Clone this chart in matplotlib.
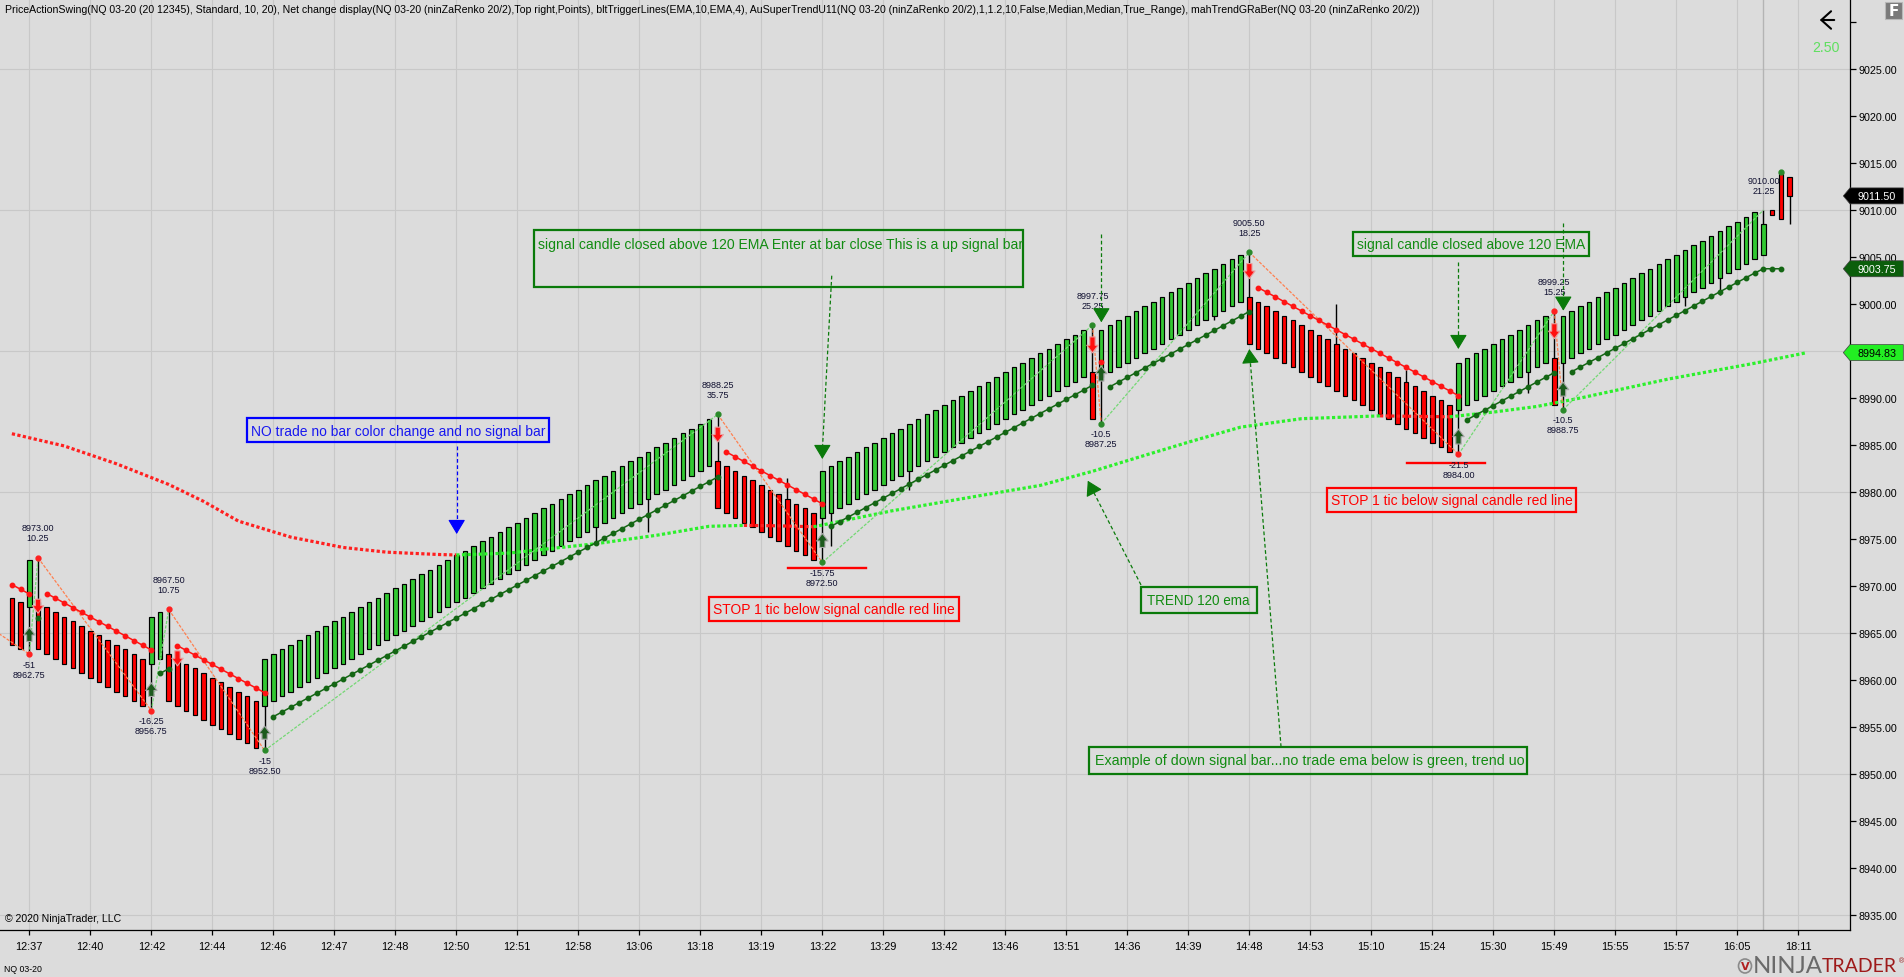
import numpy as np
import matplotlib
matplotlib.use('Agg')
import matplotlib.pyplot as plt
import matplotlib.transforms as mtransforms
from matplotlib.patches import Polygon, Rectangle, FancyArrowPatch, Ellipse
from matplotlib import font_manager as fm

# ------------------------------------------------------------------ data
time_labels = ['12:37', '12:40', '12:42', '12:44', '12:46', '12:47', '12:48', '12:50', '12:51', '12:58',
               '13:06', '13:18', '13:19', '13:22', '13:29', '13:42', '13:46', '13:51', '14:36', '14:39',
               '14:48', '14:53', '15:10', '15:24', '15:30', '15:49', '15:55', '15:57', '16:05', '18:11']

opens = [8968.75, 8968.25, 8967.75,
         8968.25, 8967.75, 8967.25, 8966.75, 8966.25, 8965.75, 8965.25, 8964.75, 8964.25, 8963.75, 8963.25, 8962.75, 8962.25,
         8961.75, 8962.25,
         8962.75, 8962.25, 8961.75, 8961.25, 8960.75, 8960.25, 8959.75, 8959.25, 8958.75, 8958.25, 8957.75,
         8957.25, 8957.75, 8958.25, 8958.75, 8959.25, 8959.75, 8960.25, 8960.75, 8961.25, 8961.75,
         8962.25, 8962.75, 8963.25, 8963.75, 8964.25, 8964.75, 8965.25, 8965.75, 8966.25, 8966.75,
         8967.25, 8967.75, 8968.25, 8968.75, 8969.25, 8969.75, 8970.25, 8970.75, 8971.25, 8971.75,
         8972.25, 8972.75, 8973.25, 8973.75, 8974.25, 8974.75, 8975.25, 8975.75, 8976.25, 8976.75,
         8977.25, 8977.75, 8978.25, 8978.75, 8979.25, 8979.75, 8980.25, 8980.75, 8981.25, 8981.75,
         8982.25, 8982.75,
         8983.25, 8982.75, 8982.25, 8981.75, 8981.25, 8980.75, 8980.25, 8979.75, 8979.25, 8978.75, 8978.25, 8977.75,
         8977.25, 8977.75, 8978.25, 8978.75, 8979.25, 8979.75, 8980.25, 8980.75, 8981.25, 8981.75,
         8982.25, 8982.75, 8983.25, 8983.75, 8984.25, 8984.75, 8985.25, 8985.75, 8986.25, 8986.75,
         8987.25, 8987.75, 8988.25, 8988.75, 8989.25, 8989.75, 8990.25, 8990.75, 8991.25, 8991.75,
         8992.25,
         8992.75,
         8992.25, 8992.75, 8993.25, 8993.75, 8994.25, 8994.75, 8995.25, 8995.75, 8996.25, 8996.75,
         8997.25, 8997.75, 8998.25, 8998.75, 8999.25, 8999.75, 9000.25,
         9000.75, 9000.25, 8999.75, 8999.25, 8998.75, 8998.25, 8997.75, 8997.25, 8996.75, 8996.25,
         8995.75, 8995.25, 8994.75, 8994.25, 8993.75, 8993.25, 8992.75, 8992.25, 8991.75, 8991.25,
         8990.75, 8990.25, 8989.75, 8989.25,
         8988.75, 8989.25, 8989.75, 8990.25, 8990.75, 8991.25, 8991.75, 8992.25, 8992.75, 8993.25, 8993.75,
         8994.25,
         8993.75, 8994.25, 8994.75, 8995.25, 8995.75, 8996.25, 8996.75, 8997.25, 8997.75, 8998.25,
         8998.75, 8999.25, 8999.75, 9000.25, 9000.75, 9001.25, 9001.75, 9002.25, 9002.75, 9003.25,
         9003.75, 9004.25, 9004.75,
         9005.25, 9010.00, 9014.00, 9013.50]

closes = [8963.75, 8963.25, 8972.75,
          8963.25, 8962.75, 8962.25, 8961.75, 8961.25, 8960.75, 8960.25, 8959.75, 8959.25, 8958.75, 8958.25, 8957.75, 8957.25,
          8966.75, 8967.25,
          8957.75, 8957.25, 8956.75, 8956.25, 8955.75, 8955.25, 8954.75, 8954.25, 8953.75, 8953.25, 8952.75,
          8962.25, 8962.75, 8963.25, 8963.75, 8964.25, 8964.75, 8965.25, 8965.75, 8966.25, 8966.75,
          8967.25, 8967.75, 8968.25, 8968.75, 8969.25, 8969.75, 8970.25, 8970.75, 8971.25, 8971.75,
          8972.25, 8972.75, 8973.25, 8973.75, 8974.25, 8974.75, 8975.25, 8975.75, 8976.25, 8976.75,
          8977.25, 8977.75, 8978.25, 8978.75, 8979.25, 8979.75, 8980.25, 8980.75, 8981.25, 8981.75,
          8982.25, 8982.75, 8983.25, 8983.75, 8984.25, 8984.75, 8985.25, 8985.75, 8986.25, 8986.75,
          8987.25, 8987.75,
          8978.25, 8977.75, 8977.25, 8976.75, 8976.25, 8975.75, 8975.25, 8974.75, 8974.25, 8973.75, 8973.25, 8972.75,
          8982.25, 8982.75, 8983.25, 8983.75, 8984.25, 8984.75, 8985.25, 8985.75, 8986.25, 8986.75,
          8987.25, 8987.75, 8988.25, 8988.75, 8989.25, 8989.75, 8990.25, 8990.75, 8991.25, 8991.75,
          8992.25, 8992.75, 8993.25, 8993.75, 8994.25, 8994.75, 8995.25, 8995.75, 8996.25, 8996.75,
          8997.25,
          8987.75,
          8997.25, 8997.75, 8998.25, 8998.75, 8999.25, 8999.75, 9000.25, 9000.75, 9001.25, 9001.75,
          9002.25, 9002.75, 9003.25, 9003.75, 9004.25, 9004.75, 9005.25,
          8995.75, 8995.25, 8994.75, 8994.25, 8993.75, 8993.25, 8992.75, 8992.25, 8991.75, 8991.25,
          8990.75, 8990.25, 8989.75, 8989.25, 8988.75, 8988.25, 8987.75, 8987.25, 8986.75, 8986.25,
          8985.75, 8985.25, 8984.75, 8984.25,
          8993.75, 8994.25, 8994.75, 8995.25, 8995.75, 8996.25, 8996.75, 8997.25, 8997.75, 8998.25, 8998.75,
          8989.25,
          8998.75, 8999.25, 8999.75, 9000.25, 9000.75, 9001.25, 9001.75, 9002.25, 9002.75, 9003.25,
          9003.75, 9004.25, 9004.75, 9005.25, 9005.75, 9006.25, 9006.75, 9007.25, 9007.75, 9008.25,
          9008.75, 9009.25, 9009.75,
          9008.50, 9009.50, 9009.00, 9011.50]

wick_high = {3: 8973.00, 18: 8967.50, 81: 8988.25, 89: 8981.50, 124: 8997.75, 142: 9005.50,
             152: 9000.00, 160: 8993.00, 177: 8999.25, 201: 9010.00}
wick_low = {2: 8962.75, 16: 8956.75, 29: 8952.50, 67: 8974.75, 73: 8975.75, 93: 8972.50, 94: 8974.25,
            103: 8980.25, 125: 8987.25, 138: 8998.25, 166: 8984.00, 174: 8990.50, 178: 8988.75,
            192: 8999.75, 196: 9001.00, 204: 9008.50}

# SuperTrend segments: (first bar, direction, values)
st_dn_1 = [8970.15, 8969.65, 8969.15]
st_up_1 = [8966.6]
st_dn_2 = [8969.2, 8968.7, 8968.2, 8967.7, 8967.2, 8966.7, 8966.2, 8965.7, 8965.2, 8964.7, 8964.2, 8963.7, 8963.2]
st_up_2 = [8960.7, 8961.2]
st_dn_3 = [8963.65, 8963.15, 8962.65, 8962.15, 8961.65, 8961.15, 8960.65, 8960.15, 8959.65, 8959.15, 8958.65]
st_up_3 = [8956.1, 8956.6, 8957.1, 8957.6, 8958.1, 8958.6, 8959.1, 8959.6, 8960.1, 8960.6,
           8961.1, 8961.6, 8962.1, 8962.6, 8963.1, 8963.6, 8964.1, 8964.6, 8965.1, 8965.6,
           8966.1, 8966.6, 8967.1, 8967.6, 8968.1, 8968.6, 8969.1, 8969.6, 8970.1, 8970.6,
           8971.1, 8971.6, 8972.1, 8972.6, 8973.1, 8973.6, 8974.1, 8974.6, 8975.1, 8975.6,
           8976.1, 8976.6, 8977.1, 8977.6, 8978.1, 8978.6, 8979.1, 8979.6, 8980.1, 8980.6,
           8981.1, 8981.6]
st_dn_4 = [8984.25, 8983.75, 8983.25, 8982.75, 8982.25, 8981.75, 8981.25, 8980.75, 8980.25, 8979.75, 8979.25, 8978.75]
st_up_4 = [8976.35, 8976.85, 8977.35, 8977.85, 8978.35, 8978.85, 8979.35, 8979.85, 8980.35, 8980.85,
           8981.35, 8981.85, 8982.35, 8982.85, 8983.35, 8983.85, 8984.35, 8984.85, 8985.35, 8985.85,
           8986.35, 8986.85, 8987.35, 8987.85, 8988.35, 8988.85, 8989.35, 8989.85, 8990.35, 8990.85,
           8991.35]
st_dn_5 = [8993.8]
st_up_5 = [8991.2, 8991.7, 8992.2, 8992.7, 8993.2, 8993.7, 8994.2, 8994.7, 8995.2, 8995.7,
           8996.2, 8996.7, 8997.2, 8997.7, 8998.2, 8998.7, 8999.2]
st_dn_6 = [9001.75, 9001.25, 9000.75, 9000.25, 8999.75, 8999.25, 8998.75, 8998.25, 8997.75, 8997.25,
           8996.75, 8996.25, 8995.75, 8995.25, 8994.75, 8994.25, 8993.75, 8993.25, 8992.75, 8992.25,
           8991.75, 8991.25, 8990.75, 8990.25]
st_up_6 = [8987.7, 8988.2, 8988.7, 8989.2, 8989.7, 8990.2, 8990.7, 8991.2, 8991.7, 8992.2, 8992.7]
st_up_7 = [8992.8, 8993.3, 8993.8, 8994.3, 8994.8, 8995.3, 8995.8, 8996.3, 8996.8, 8997.3,
           8997.8, 8998.3, 8998.8, 8999.3, 8999.8, 9000.3, 9000.8, 9001.3, 9001.8, 9002.3,
           9002.8, 9003.3, 9003.75, 9003.75, 9003.75]
supertrend = [(0, 'dn', st_dn_1), (3, 'up', st_up_1), (4, 'dn', st_dn_2), (17, 'up', st_up_2),
              (19, 'dn', st_dn_3), (30, 'up', st_up_3), (82, 'dn', st_dn_4), (94, 'up', st_up_4),
              (125, 'dn', st_dn_5), (126, 'up', st_up_5), (143, 'dn', st_dn_6), (167, 'up', st_up_6),
              (179, 'up', st_up_7)]

# 120 EMA (knots) and its trend colouring per segment
ema_bars = [0, 6, 12, 18, 22, 26, 32, 38, 43, 49, 51, 57, 62, 67, 74, 80, 84, 88, 92, 101, 111, 118,
            124, 130, 135, 141, 148, 157, 161, 165, 170, 175, 180, 190, 200, 206]
ema_vals = [8986.2, 8984.9, 8983.0, 8980.8, 8979.0, 8976.9, 8975.2, 8974.1, 8973.6, 8973.35, 8973.3,
            8973.5, 8974.0, 8974.5, 8975.4, 8976.35, 8976.45, 8976.4, 8976.3, 8978.0, 8979.6, 8980.7,
            8982.2, 8983.9, 8985.3, 8986.9, 8987.8, 8988.1, 8988.05, 8988.0, 8988.5, 8989.1, 8990.0,
            8992.0, 8993.7, 8994.83]
ema_trend = list('RRRRRRRRRR' 'GGGGGG' 'RR' 'GGGGGGGGG' 'RR' 'GGGGGG')

# swing points (PriceActionSwing)
swing_bars = [2, 3, 16, 18, 29, 81, 93, 124, 125, 142, 166, 177, 178, 201]
swing_prices = [8962.75, 8973.00, 8956.75, 8967.50, 8952.50, 8988.25, 8972.50, 8997.75, 8987.25,
                9005.50, 8984.00, 8999.25, 8988.75, 9010.00]
swing_kind = ['L', 'H', 'L', 'H', 'L', 'H', 'L', 'H', 'L', 'H', 'L', 'H', 'L', 'H']
swing_diff = ['-51', '10.25', '-16.25', '10.75', '-15', '35.75', '-15.75', '25.25', '-10.5', '18.25',
              '-21.5', '15.25', '-10.5', '21.25']
swing_dot = ['r', 'r', 'r', 'r', 'g', 'g', 'g', 'g', 'g', 'g', 'r', 'r', 'g', '']
prior_swing = (-4, 8966.5)
live_high = (203, 9014.00)

# signal arrows
up_sig_bars = [2, 16, 29, 93, 125, 166, 178]
up_sig_tip = [8965.6, 8959.7, 8955.1, 8975.6, 8993.4, 8986.7, 8991.7]
up_sig_tail = [8964.1, 8958.25, 8953.7, 8974.1, 8991.8, 8985.1, 8990.2]
dn_sig_bars = [3, 19, 81, 124, 142, 177]
dn_sig_tip = [8967.1, 8961.5, 8985.3, 8994.8, 9002.7, 8996.3]
dn_sig_tail = [8968.6, 8963.1, 8986.9, 8996.5, 9004.3, 8997.9]

# stop lines
stop_prices = [8971.9, 8983.1]
stop_from = [89.1, 160.07]
stop_to = [98.0, 169.05]

# right axis markers
last_price = 9011.50
supertrend_last = 9003.75
ema_last = 8994.83
net_change = '2.50'

title = ('PriceActionSwing(NQ 03-20 (20 12345), Standard, 10, 20), Net change display(NQ 03-20 (ninZaRenko 20/2),'
         'Top right,Points), bltTriggerLines(EMA,10,EMA,4), AuSuperTrendU11(NQ 03-20 (ninZaRenko 20/2),1,1.2,10,'
         'False,Median,Median,True_Range), mahTrendGRaBer(NQ 03-20 (ninZaRenko 20/2))')

# ------------------------------------------------------------------ style
W, H = 1904, 978
BG = '#dcdcdc'
GRID = '#c8c8c8'
UPC = '#32c832'
DNC = '#ff0000'
STUP = '#146614'
STDN = '#ff1414'
EMAG = '#2cf02c'
EMAR = '#ff2020'
ZZUP = '#74d874'
ZZDN = '#ff8050'
LABC = '#101030'
GTXT = '#128c12'
GBOX = '#0a7a0a'


def pick_font():
    for fam in ['Liberation Sans Narrow', 'Arial Narrow', 'Liberation Sans', 'Arial']:
        try:
            fm.findfont(fm.FontProperties(family=fam), fallback_to_default=False)
            return fam
        except Exception:
            pass
    return 'DejaVu Sans'


FONT = pick_font()
plt.rcParams['font.family'] = [FONT, 'DejaVu Sans']

fig = plt.figure(figsize=(W / 100, H / 100), dpi=100, facecolor=BG)
ax = fig.add_axes([0, 47 / H, 1850 / W, 931 / H])
ax.set_facecolor(BG)
ax.set_xlim(-1.366, 210.93)
ax.set_ylim(8933.404, 9032.447)
renderer = fig.canvas.get_renderer()


def fit_size(s, target_px, **kw):
    t = fig.text(0, 0, s, fontsize=10, **kw)
    w = t.get_window_extent(renderer).width
    t.remove()
    return 10.0 * target_px / w


def fx(px):
    return px / W


def fy(py):
    return 1 - py / H


for s in ['top', 'left']:
    ax.spines[s].set_visible(False)
for s in ['bottom', 'right']:
    ax.spines[s].set_color('black')
    ax.spines[s].set_linewidth(0.9)

# ticks
tick_bars = [2 + 7 * i for i in range(len(time_labels))]
xfs = fit_size('12:37', 25) * 1.1
yfs = fit_size('9025.00', 37) * 1.05
ax.set_xticks(tick_bars)
ax.set_xticklabels(time_labels)
ax.tick_params(axis='x', length=3.6, width=0.9, pad=4, labelsize=xfs, colors='black')
yt = np.arange(8935, 9031, 5)
ax.yaxis.tick_right()
ax.set_yticks(yt)
ax.set_yticklabels([f'{v:.2f}' if v <= 9025 else '' for v in yt])
ax.tick_params(axis='y', length=4, width=0.9, pad=2.2, labelsize=yfs, colors='black')

# grid
for b in tick_bars:
    ax.axvline(b, color=GRID, lw=0.8, zorder=0)
for p in range(8935, 9026, 15):
    ax.axhline(p, color=GRID, lw=0.8, zorder=0)
ax.axvline(201, color='#b4b4b4', lw=1.0, zorder=0.5)

# bars
x = np.arange(len(opens))
o = np.array(opens)
c = np.array(closes)
colors = np.where(c >= o, UPC, DNC)
for b, hi in wick_high.items():
    ax.vlines(b, max(o[b], c[b]), hi, color='black', lw=1.0, zorder=3)
for b, lo in wick_low.items():
    ax.vlines(b, lo, min(o[b], c[b]), color='black', lw=1.0, zorder=3)
ax.bar(x, c - o, bottom=o, width=0.52, color=colors, edgecolor='black', linewidth=0.85, zorder=4)

# EMA dotted, grouped by colour
start = 0
for i in range(1, len(ema_trend) + 1):
    if i == len(ema_trend) or ema_trend[i] != ema_trend[start]:
        ax.plot(ema_bars[start:i + 1], ema_vals[start:i + 1],
                color=EMAR if ema_trend[start] == 'R' else EMAG,
                lw=2.3, ls=(0, (1, 0.75)), zorder=5)
        start = i

# zigzag
zz_b = [prior_swing[0]] + swing_bars
zz_p = [prior_swing[1]] + swing_prices
for i in range(len(zz_b) - 1):
    col = ZZDN if zz_p[i + 1] < zz_p[i] else ZZUP
    ax.plot(zz_b[i:i + 2], zz_p[i:i + 2], color=col, lw=0.9, ls=(0, (2.5, 1.2)), zorder=5.5)

# SuperTrend
for first, d, vals in supertrend:
    xs = np.arange(first, first + len(vals))
    ax.plot(xs, vals, color=STUP if d == 'up' else STDN, lw=1.1, marker='o', ms=3.2, zorder=6)

# swing dots + labels
lab_fs = fit_size('8988.25', 31) * 1.05
for b, p, k, d, dc in zip(swing_bars, swing_prices, swing_kind, swing_diff, swing_dot):
    if dc:
        ax.plot(b, p, 'o', ms=3.5, color='#ff2020' if dc == 'r' else '#2a8a2a', zorder=7)
    if k == 'H':
        ax.annotate(f'{p:.2f}', (b, p), xytext=(0, 30), textcoords='offset pixels', ha='center',
                    va='center', fontsize=lab_fs, color=LABC, zorder=9)
        ax.annotate(d, (b, p), xytext=(0, 20), textcoords='offset pixels', ha='center',
                    va='center', fontsize=lab_fs, color=LABC, zorder=9)
    else:
        ax.annotate(d, (b, p), xytext=(0, -10), textcoords='offset pixels', ha='center',
                    va='center', fontsize=lab_fs, color=LABC, zorder=9)
        ax.annotate(f'{p:.2f}', (b, p), xytext=(0, -20), textcoords='offset pixels', ha='center',
                    va='center', fontsize=lab_fs, color=LABC, zorder=9)
ax.plot(live_high[0], live_high[1], 'o', ms=3.5, color='#2a8a2a', zorder=7)

# signal arrows
for b, tp, tl in zip(up_sig_bars, up_sig_tip, up_sig_tail):
    ax.annotate('', xy=(b, tp), xytext=(b, tl), zorder=8,
                arrowprops=dict(arrowstyle='simple,head_length=0.5,head_width=0.75,tail_width=0.35',
                                fc='#1c5a1c', ec='#a8a8a8', lw=0.8, mutation_scale=11, shrinkA=0, shrinkB=0))
for b, tp, tl in zip(dn_sig_bars, dn_sig_tip, dn_sig_tail):
    ax.annotate('', xy=(b, tp), xytext=(b, tl), zorder=8,
                arrowprops=dict(arrowstyle='simple,head_length=0.5,head_width=0.75,tail_width=0.35',
                                fc='#ff1010', ec='#e8a0a0', lw=0.8, mutation_scale=11, shrinkA=0, shrinkB=0))

# stop lines
for p, a, b in zip(stop_prices, stop_from, stop_to):
    ax.plot([a, b], [p, p], color='#ff0000', lw=1.7, zorder=7)

# annotation boxes
boxes = [
    ('NO trade no bar color change and no signal bar', '#1818f0', '#0000ff', 26.94, 61.67, 8987.84, 8985.29, 27.40, 8986.54, 295),
    ('signal candle closed above 120 EMA Enter at bar close This is a up signal bar', GTXT, GBOX, 59.91, 116.0, 9007.90, 9001.84, 60.37, 9006.38, 482),
    ('signal candle closed above 120 EMA', GTXT, GBOX, 153.87, 181.02, 9007.70, 9005.14, 154.33, 9006.41, 229),
    ('TREND 120 ema', GTXT, GBOX, 129.57, 142.83, 8969.94, 8967.10, 130.26, 8968.51, 103),
    ('Example of down signal bar...no trade ema below is green, trend uo', GTXT, GBOX, 123.6, 173.9, 8952.87, 8950.05, 124.3, 8951.49, 426),
    ('STOP 1 tic below signal candle red line', '#ff0000', '#ff0000', 80.0, 108.69, 8968.80, 8966.32, 80.42, 8967.55, 242),
    ('STOP 1 tic below signal candle red line', '#ff0000', '#ff0000', 150.95, 179.49, 8980.39, 8977.87, 151.34, 8979.15, 242),
]
for txt, tc, bc, x0, x1, yt_, yb, tx, ty, tw in boxes:
    ax.add_patch(Rectangle((x0, yb), x1 - x0, yt_ - yb, fill=False, ec=bc, lw=1.6, zorder=9))
    ax.text(tx, ty, txt, color=tc, fontsize=fit_size(txt, tw), ha='left', va='center', zorder=9)

# dashed pointer lines with triangular heads: (start, base, tip, colour)
pointers = [
    ((51.04, 8984.93), (51.04, 8976.38), (51.04, 8975.53), '#0000ff'),
    ((94.08, 9003.01), (93.0, 8984.39), (93.0, 8983.51), GBOX),
    ((125.02, 9007.45), (125.02, 8998.94), (125.02, 8998.05), GBOX),
    ((165.99, 9004.44), (165.99, 8995.99), (165.99, 8995.21), GBOX),
    ((178.03, 9008.62), (178.03, 9000.11), (178.03, 8999.29), GBOX),
    ((129.57, 8970.11), (123.93, 8980.35), (123.46, 8981.20), GBOX),
    ((145.64, 8952.87), (142.08, 8994.26), (142.0, 8995.21), GBOX),
]
for st, base, tip, col in pointers:
    ax.plot([st[0], base[0]], [st[1], base[1]], color=col, lw=0.9, ls=(0, (3, 2)), zorder=9)
    ax.annotate('', xy=tip, xytext=base, zorder=9,
                arrowprops=dict(arrowstyle='-|>,head_length=0.75,head_width=0.45', fc=col, ec=col,
                                lw=0.8, mutation_scale=12, shrinkA=0, shrinkB=0))

# ------------------------------------------------------------------ right-axis price tags
blend = mtransforms.blended_transform_factory(fig.transFigure, ax.transData)
hh = 8.0 / 9.4
for val, fc, tcol in [(last_price, '#000000', 'white'), (supertrend_last, '#0b5e0b', 'white'),
                      (ema_last, '#22ee22', 'black')]:
    verts = [(fx(1843.3), val), (fx(1850), val + hh), (fx(1903.3), val + hh),
             (fx(1903.3), val - hh), (fx(1850), val - hh)]
    ax.add_patch(Polygon(verts, closed=True, transform=blend, fc=fc, ec='#404040', lw=0.5,
                         clip_on=False, zorder=20))
    ax.text(fx(1877), val, f'{val:.2f}', transform=blend, color=tcol, fontsize=yfs,
            ha='center', va='center', clip_on=False, zorder=21)

# ------------------------------------------------------------------ figure texts / decorations
fig.text(fx(5), fy(10), title, fontsize=fit_size(title, 1423), ha='left', va='center', color='black')
fig.text(fx(5), fy(919), '\u00a9 2020 NinjaTrader, LLC', fontsize=fit_size('\u00a9 2020 NinjaTrader, LLC', 116),
         ha='left', va='center', color='black')
fig.text(fx(4), fy(970), 'NQ 03-20', fontsize=fit_size('NQ 03-20', 38), ha='left', va='center', color='black')
fig.text(fx(1825.7), fy(48), net_change, fontsize=fit_size(net_change, 23) * 1.2, color='#5fdf5f',
         ha='center', va='center')
fig.add_artist(FancyArrowPatch((fx(1837), fy(21)), (fx(1817), fy(21)), transform=fig.transFigure,
                               arrowstyle='->,head_length=0.5,head_width=0.45', mutation_scale=14,
                               color='black', lw=1.5))
fig.add_artist(Rectangle((fx(1885), fy(20)), fx(17), 17 / H, transform=fig.transFigure,
                         fc='#7a7a7a', ec='#b8b8b8', lw=0.8))
fig.text(fx(1893.5), fy(11.5), 'F', color='white', fontsize=11, ha='center', va='center',
         fontweight='bold', family='DejaVu Sans')

# NinjaTrader logo
fig.add_artist(Ellipse((fx(1745), fy(967)), fx(13), 14 / H, transform=fig.transFigure,
                       fc='none', ec='#8a8a8a', lw=1.2))
fig.text(fx(1745), fy(967), 'V', color='#b02020', fontsize=8, ha='center', va='center', fontweight='bold',
         family='DejaVu Sans')
logo_kw = dict(family=['Lato', FONT], fontweight='normal')
fig.text(fx(1753), fy(967), 'NINJA', color='#6a6a6a', fontsize=fit_size('NINJA', 69, **logo_kw),
         ha='left', va='center', **logo_kw)
fig.text(fx(1822), fy(967), 'TRADER', color='#9e1a1a', fontsize=fit_size('TRADER', 75, **logo_kw),
         ha='left', va='center', **logo_kw)
fig.text(fx(1899), fy(962), '\u00ae', color='#9e1a1a', fontsize=5, ha='left', va='center')

fig.savefig('out.png', dpi=100, facecolor=BG)
